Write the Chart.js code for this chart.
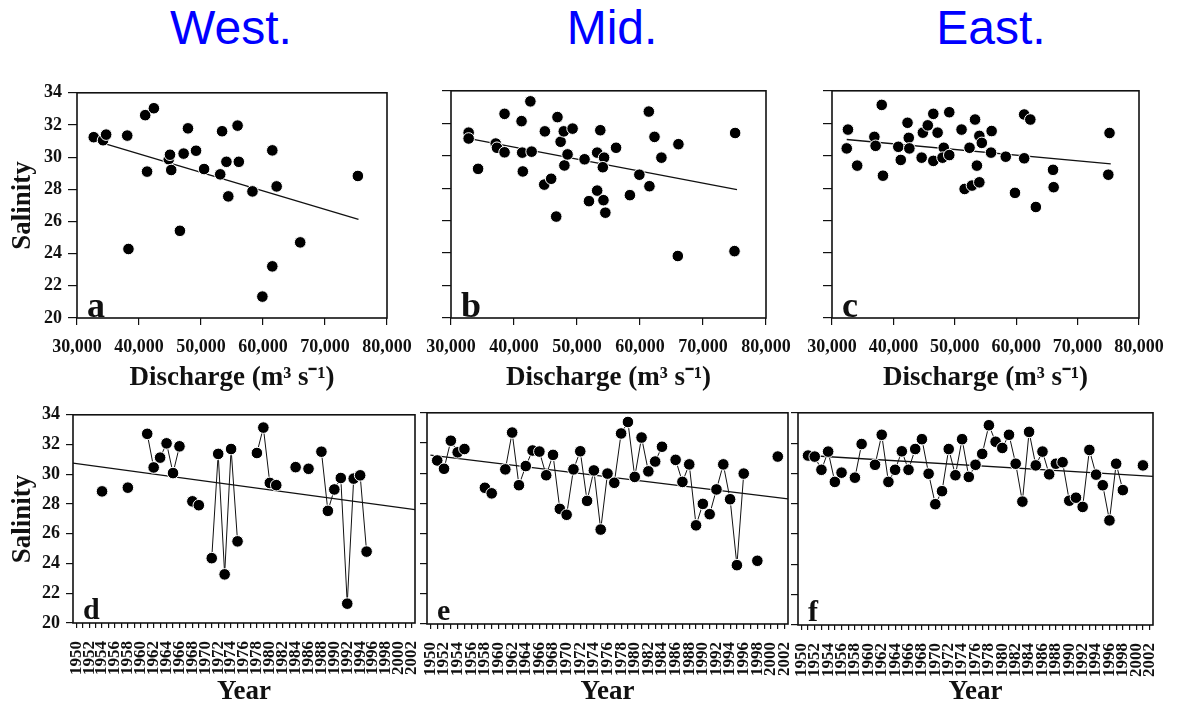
<!DOCTYPE html>
<html>
<head>
<meta charset="utf-8">
<script src="https://cdn.jsdelivr.net/npm/chart.js@4.4.1/dist/chart.umd.min.js"></script>
<style>
body { margin: 0; width: 1178px; height: 710px; background: #fff; position: relative; overflow: hidden; }
canvas { position: absolute; }
.ttl { position: absolute; top: 4px; width: 300px; text-align: center; font: 48px "Liberation Sans", Arial, sans-serif; line-height: 48px; color: #0000ff; }
</style>
</head>
<body>
<div class="ttl" style="left:81px">West.</div>
<div class="ttl" style="left:462px">Mid.</div>
<div class="ttl" style="left:841px">East.</div>
<script>
// discharge vs salinity (top row)
const dischargeA = [32700, 34200, 34700, 38100, 38300, 41000, 42400, 41300, 44800, 45000, 45200, 46600, 47200, 47900, 49200, 50500, 53100, 53400, 54100, 54400, 55900, 56100, 58300, 59900, 61500, 61500, 62200, 66000, 75300];
const salinityA = [31.24, 31.05, 31.4, 31.34, 24.29, 32.61, 33.04, 29.1, 29.87, 30.15, 29.2, 25.42, 30.22, 31.79, 30.4, 29.26, 28.93, 31.61, 29.71, 27.56, 31.96, 29.71, 27.87, 21.33, 30.42, 23.21, 28.18, 24.7, 28.83];

const dischargeB = [32800, 32800, 34300, 37100, 37300, 38500, 38500, 41200, 41300, 41400, 42600, 42800, 44900, 44800, 45900, 46700, 46900, 47400, 47900, 48000, 48500, 49300, 51200, 51900, 53200, 53200, 53700, 54300, 54200, 54100, 54500, 56200, 58400, 59900, 61400, 61500, 62300, 63400, 66000, 66100, 75100, 75000];
const salinityB = [31.42, 31.06, 29.19, 30.75, 30.49, 32.58, 30.21, 32.13, 30.19, 29.03, 33.35, 30.25, 31.5, 28.22, 28.58, 26.25, 32.38, 30.86, 31.5, 29.4, 30.08, 31.67, 29.78, 27.2, 30.19, 27.85, 31.57, 29.88, 27.26, 29.29, 26.49, 30.49, 27.57, 28.83, 32.72, 28.12, 31.16, 29.88, 23.82, 30.71, 31.4, 24.12];

const dischargeC = [32600, 32400, 34100, 36900, 37100, 38100, 38300, 40800, 41200, 42300, 42500, 42600, 44600, 44800, 45600, 46500, 46500, 47200, 48200, 48000, 49100, 49100, 51100, 51600, 52400, 52800, 53300, 53600, 54000, 54000, 54400, 55900, 56000, 58300, 59800, 61300, 61300, 62300, 63200, 66000, 66100, 75200, 75000];
const salinityC = [31.61, 30.45, 29.39, 31.16, 30.61, 33.13, 28.77, 30.55, 29.74, 32.03, 31.1, 30.45, 29.88, 31.42, 31.87, 32.58, 29.68, 31.42, 30.49, 29.88, 32.68, 30.04, 31.61, 27.95, 30.49, 28.16, 32.23, 29.39, 28.36, 31.22, 30.79, 30.19, 31.52, 29.94, 27.71, 29.84, 32.54, 32.23, 26.84, 29.13, 28.06, 31.4, 28.83];

// regression lines, end points
const trendXA = [32700, 75400], trendYA = [31.04, 26.13];
const trendXB = [32300, 75400], trendYB = [31.1, 27.91];
const trendXC = [32400, 75400], trendYC = [31.0, 29.5];

// year vs salinity (bottom row)
const yearsD = [1954, 1958, 1961, 1962, 1963, 1964, 1965, 1966, 1968, 1969, 1971, 1972, 1973, 1974, 1975, 1978, 1979, 1980, 1981, 1984, 1986, 1988, 1989, 1990, 1991, 1992, 1993, 1994, 1995];
const salD = [28.85, 29.1, 32.72, 30.46, 31.12, 32.08, 30.08, 31.88, 28.18, 27.92, 24.36, 31.37, 23.27, 31.7, 25.49, 31.43, 33.14, 29.42, 29.27, 30.48, 30.37, 31.52, 27.54, 28.98, 29.75, 21.3, 29.71, 29.93, 24.8];

const yearsE = [1951, 1952, 1953, 1954, 1955, 1958, 1959, 1961, 1962, 1963, 1964, 1965, 1966, 1967, 1968, 1969, 1970, 1971, 1972, 1973, 1974, 1975, 1976, 1977, 1978, 1979, 1980, 1981, 1982, 1983, 1984, 1986, 1987, 1988, 1989, 1990, 1991, 1992, 1993, 1994, 1995, 1996, 1998, 2001];
const salE = [30.84, 30.29, 32.15, 31.38, 31.6, 29.03, 28.66, 30.25, 32.69, 29.2, 30.47, 31.5, 31.43, 29.86, 31.21, 27.63, 27.24, 30.25, 31.45, 28.16, 30.18, 26.26, 29.97, 29.36, 32.63, 33.39, 29.75, 32.36, 30.12, 30.77, 31.75, 30.88, 29.42, 30.58, 26.54, 27.96, 27.28, 28.92, 30.58, 28.27, 23.9, 29.97, 24.19, 31.1];

const yearsF = [1951, 1952, 1953, 1954, 1955, 1956, 1958, 1959, 1961, 1962, 1963, 1964, 1965, 1966, 1967, 1968, 1969, 1970, 1971, 1972, 1973, 1974, 1975, 1976, 1977, 1978, 1979, 1980, 1981, 1982, 1983, 1984, 1985, 1986, 1987, 1988, 1989, 1990, 1991, 1992, 1993, 1994, 1995, 1996, 1997, 1998, 2001];
const salF = [31.18, 31.11, 30.24, 31.44, 29.44, 30.05, 29.72, 31.94, 30.57, 32.55, 29.44, 30.24, 31.46, 30.24, 31.61, 32.26, 29.98, 27.97, 28.83, 31.61, 29.88, 32.26, 29.77, 30.57, 31.29, 33.18, 32.09, 31.68, 32.55, 30.64, 28.14, 32.74, 30.53, 31.44, 29.94, 30.64, 30.74, 28.2, 28.4, 27.79, 31.55, 29.92, 29.22, 26.9, 30.64, 28.9, 30.53];

const trendXD = [1949.5, 2002.5], trendYD = [30.75, 27.62];
const trendXE = [1950, 2002.5], trendYE = [31.2, 28.29];
const trendXF = [1950.5, 2002.5], trendYF = [31.2, 29.8];

const allYears = [];
for (let y = 1950; y <= 2002; y++) allYears.push(y);

const INK = '#111';
const PAD_TOP = 14;
const PAD_R = 60;
const serif = size => ({ family: '"Liberation Serif", "Times New Roman", serif', weight: 'bold', size: size });

// box round the plot area + panel letter
const framePlugin = {
    id: 'frame',
    afterDraw(chart, args, opts) {
        const ctx = chart.ctx, c = chart.chartArea;
        ctx.save();
        ctx.strokeStyle = INK;
        ctx.lineWidth = 1.6;
        ctx.strokeRect(c.left, c.top, c.right - c.left, c.bottom - c.top);
        ctx.fillStyle = INK;
        ctx.font = 'bold ' + opts.size + 'px "Liberation Serif", serif';
        ctx.textBaseline = 'alphabetic';
        ctx.fillText(opts.tag, c.left + 10, c.bottom - opts.lift);
        ctx.restore();
    }
};
Chart.register(framePlugin);

function addCanvas(box) {
    const cv = document.createElement('canvas');
    cv.width = box.yW + (box.r - box.l) + PAD_R;
    cv.height = PAD_TOP + (box.b - box.t) + box.xH;
    cv.style.left = (box.l - box.yW) + 'px';
    cv.style.top = (box.t - PAD_TOP) + 'px';
    document.body.appendChild(cv);
    return cv;
}

function yScale(box, showY, tickLen) {
    return {
        min: 20, max: 34,
        ticks: { stepSize: 2, padding: 6, color: INK, font: serif(18), callback: v => showY ? v : '' },
        grid: { drawOnChartArea: false, tickLength: tickLen, color: INK, lineWidth: 1.2 },
        border: { display: false },
        title: { display: showY, text: 'Salinity', color: INK, font: serif(27), padding: { top: 7, bottom: 0 } },
        afterFit: s => { s.width = box.yW; }
    };
}

function baseOptions(box, tag, tagSize, lift) {
    return {
        responsive: false,
        animation: false,
        devicePixelRatio: 1,
        layout: { padding: { top: PAD_TOP, right: PAD_R, left: 0, bottom: 0 } },
        plugins: {
            legend: { display: false },
            tooltip: { enabled: false },
            frame: { tag: tag, size: tagSize, lift: lift }
        }
    };
}

function scatterPanel(box, xs, ys, tx, ty, tag, showY) {
    const opts = baseOptions(box, tag, 36, 1);
    opts.scales = {
        x: {
            type: 'linear', min: 30000, max: 80000,
            ticks: { stepSize: 10000, autoSkip: false, maxRotation: 0, padding: 12, color: INK, font: serif(18),
                callback: v => v.toLocaleString('en-US') },
            grid: { drawOnChartArea: false, tickLength: 7, color: INK, lineWidth: 1.2 },
            border: { display: false },
            title: { display: true, text: 'Discharge (m³ s⁻¹)', color: INK, font: serif(27), padding: 0 },
            afterFit: s => { s.height = box.xH; }
        },
        y: yScale(box, showY, 9)
    };
    new Chart(addCanvas(box), {
        type: 'scatter',
        data: {
            datasets: [
                {
                    data: xs.map((x, i) => ({ x: x, y: ys[i] })),
                    pointRadius: 5.8, pointBackgroundColor: '#000', pointBorderColor: '#fff', pointBorderWidth: 1
                },
                {
                    data: tx.map((x, i) => ({ x: x, y: ty[i] })),
                    showLine: true, pointRadius: 0, borderColor: INK, borderWidth: 1.3
                }
            ]
        },
        options: opts
    });
}

function yearPanel(box, yrs, vals, tx, ty, tag, showY) {
    const series = allYears.map(y => {
        const k = yrs.indexOf(y);
        return { x: y, y: k >= 0 ? vals[k] : null };
    });
    const opts = baseOptions(box, tag, 30, 4);
    opts.scales = {
        x: {
            type: 'linear', min: 1949.5, max: 2002.5,
            afterBuildTicks: s => { s.ticks = allYears.map(v => ({ value: v })); },
            ticks: { autoSkip: false, minRotation: 90, maxRotation: 90, padding: 13, color: INK, font: serif(17),
                callback: v => v % 2 === 0 ? String(v) : '' },
            grid: { drawOnChartArea: false, tickLength: 5, color: INK, lineWidth: 1.2 },
            border: { display: false },
            title: { display: true, text: 'Year', color: INK, font: serif(27), padding: 0 },
            afterFit: s => { s.height = box.xH; }
        },
        y: yScale(box, showY, 7)
    };
    new Chart(addCanvas(box), {
        type: 'line',
        data: {
            datasets: [
                {
                    data: series, spanGaps: false, tension: 0,
                    borderColor: INK, borderWidth: 1,
                    pointRadius: 5.8, pointBackgroundColor: '#000', pointBorderColor: '#fff', pointBorderWidth: 1
                },
                {
                    data: tx.map((x, i) => ({ x: x, y: ty[i] })),
                    pointRadius: 0, borderColor: INK, borderWidth: 1.3
                }
            ]
        },
        options: opts
    });
}

scatterPanel({ l: 77, r: 387, t: 90, b: 318, yW: 77, xH: 76 }, dischargeA, salinityA, trendXA, trendYA, 'a', true);
scatterPanel({ l: 451, r: 766, t: 88, b: 318, yW: 40, xH: 76 }, dischargeB, salinityB, trendXB, trendYB, 'b', false);
scatterPanel({ l: 832, r: 1139, t: 88, b: 318, yW: 40, xH: 76 }, dischargeC, salinityC, trendXC, trendYC, 'c', false);

yearPanel({ l: 73, r: 415, t: 412, b: 623, yW: 73, xH: 85 }, yearsD, salD, trendXD, trendYD, 'd', true);
yearPanel({ l: 427, r: 788, t: 410, b: 624, yW: 40, xH: 84 }, yearsE, salE, trendXE, trendYE, 'e', false);
yearPanel({ l: 798, r: 1153, t: 410, b: 625, yW: 40, xH: 83 }, yearsF, salF, trendXF, trendYF, 'f', false);
</script>
</body>
</html>
